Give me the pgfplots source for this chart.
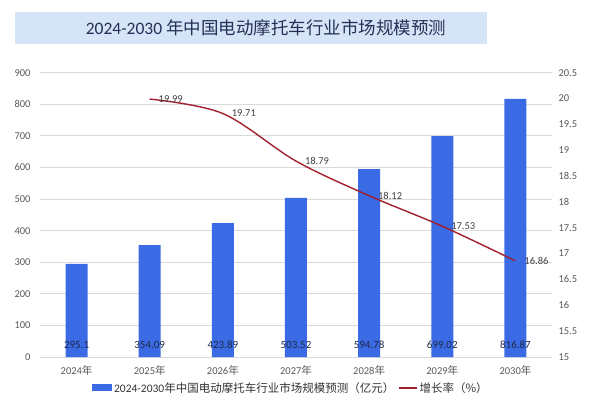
\documentclass[border=0pt]{standalone}
\usepackage{fontspec}
\setmainfont{Carlito}
\newfontfamily\cjk{Noto Sans CJK SC}
\usepackage{pgfplots}
\pgfplotsset{compat=1.18}
\definecolor{barblue}{HTML}{3A6AE4}
\definecolor{linered}{HTML}{A0202E}
\definecolor{ticktxt}{HTML}{595959}
\definecolor{gridc}{HTML}{D9D9D9}
\definecolor{titlebg}{HTML}{D6E4F7}
\definecolor{titletxt}{HTML}{243056}
\definecolor{lbltxt}{HTML}{1E2A48}
\begin{document}
\begin{tikzpicture}[x=1pt,y=1pt]
\path[use as bounding box] (0,0) rectangle (594,397);
\fill[titlebg] (15,353) rectangle (487,385);
\node[text=titletxt, font=\fontsize{17.5}{20}\selectfont] at (266,369) {2024-2030 {\cjk 年中国电动摩托车行业市场规模预测}};
\begin{axis}[
  at={(40pt,40pt)}, anchor=south west, scale only axis,
  width=512pt, height=284.3pt,
  xmin=-0.5, xmax=6.5, ymin=0, ymax=900,
  ytick={0,100,...,900},
  xtick={0,...,6},
  xticklabels={2024{\cjk 年},2025{\cjk 年},2026{\cjk 年},2027{\cjk 年},2028{\cjk 年},2029{\cjk 年},2030{\cjk 年}},
  axis line style={draw=none},
  major tick length=0pt,
  ymajorgrids, grid style={gridc, line width=0.8pt},
  /pgf/number format/assume math mode=true,
  tick label style={text=ticktxt, font=\fontsize{10.5}{12}\selectfont},
  yticklabel style={xshift=-6pt},
  xticklabel style={yshift=-5pt},
  legend style={at={(0.49,0)}, anchor=north, yshift=-21pt, draw=none, fill=none,
    legend columns=2, font=\fontsize{11.5}{13}\selectfont, text=black!80,
    /tikz/every even column/.append style={column sep=2pt}},
]
\addplot[ybar, bar width=22pt, fill=barblue, draw=none,
  legend image code/.code={\fill[barblue] (0pt,-3.5pt) rectangle (20pt,3.5pt);}]
  coordinates {(0,295.1) (1,354.09) (2,423.89) (3,503.52) (4,594.78) (5,699.02) (6,816.87)};
\addlegendentry{2024-2030{\cjk 年中国电动摩托车行业市场规模预测（亿元）}}
\addlegendimage{linered, line width=1.3pt, legend image code/.code={\draw[linered, line width=1.3pt] (0pt,0pt) -- (18pt,0pt);}}
\addlegendentry{{\cjk 增长率（\%）}}
\addplot[draw=none, mark=none, forget plot, point meta=explicit symbolic,
  nodes near coords, every node near coord/.append style={anchor=center, text=lbltxt, font=\fontsize{11}{12}\selectfont}]
  coordinates {(0,38)[295.1] (1,38)[354.09] (2,38)[423.89] (3,38)[503.52] (4,38)[594.78] (5,38)[699.02] (6,38)[816.87]};
\end{axis}
\begin{axis}[
  at={(40pt,40pt)}, anchor=south west, scale only axis,
  width=512pt, height=284.3pt,
  xmin=-0.5, xmax=6.5, ymin=15, ymax=20.5,
  ytick={15,15.5,...,20.5},
  axis y line*=right, hide x axis,
  axis line style={draw=none},
  major tick length=0pt,
  /pgf/number format/assume math mode=true,
  tick label style={text=ticktxt, font=\fontsize{10.5}{12}\selectfont},
  yticklabel style={xshift=3pt},
]
\addplot[linered, line width=1.4pt, smooth, tension=0.55, mark=none,
  point meta=explicit symbolic, nodes near coords,
  every node near coord/.append style={anchor=west, xshift=5pt, text=black!75, font=\fontsize{10.5}{12}\selectfont}]
  coordinates {(1,19.99)[19.99] (2,19.71)[19.71] (3,18.79)[18.79] (4,18.12)[18.12] (5,17.53)[17.53] (6,16.86)[16.86]};
\end{axis}
\end{tikzpicture}
\end{document}
